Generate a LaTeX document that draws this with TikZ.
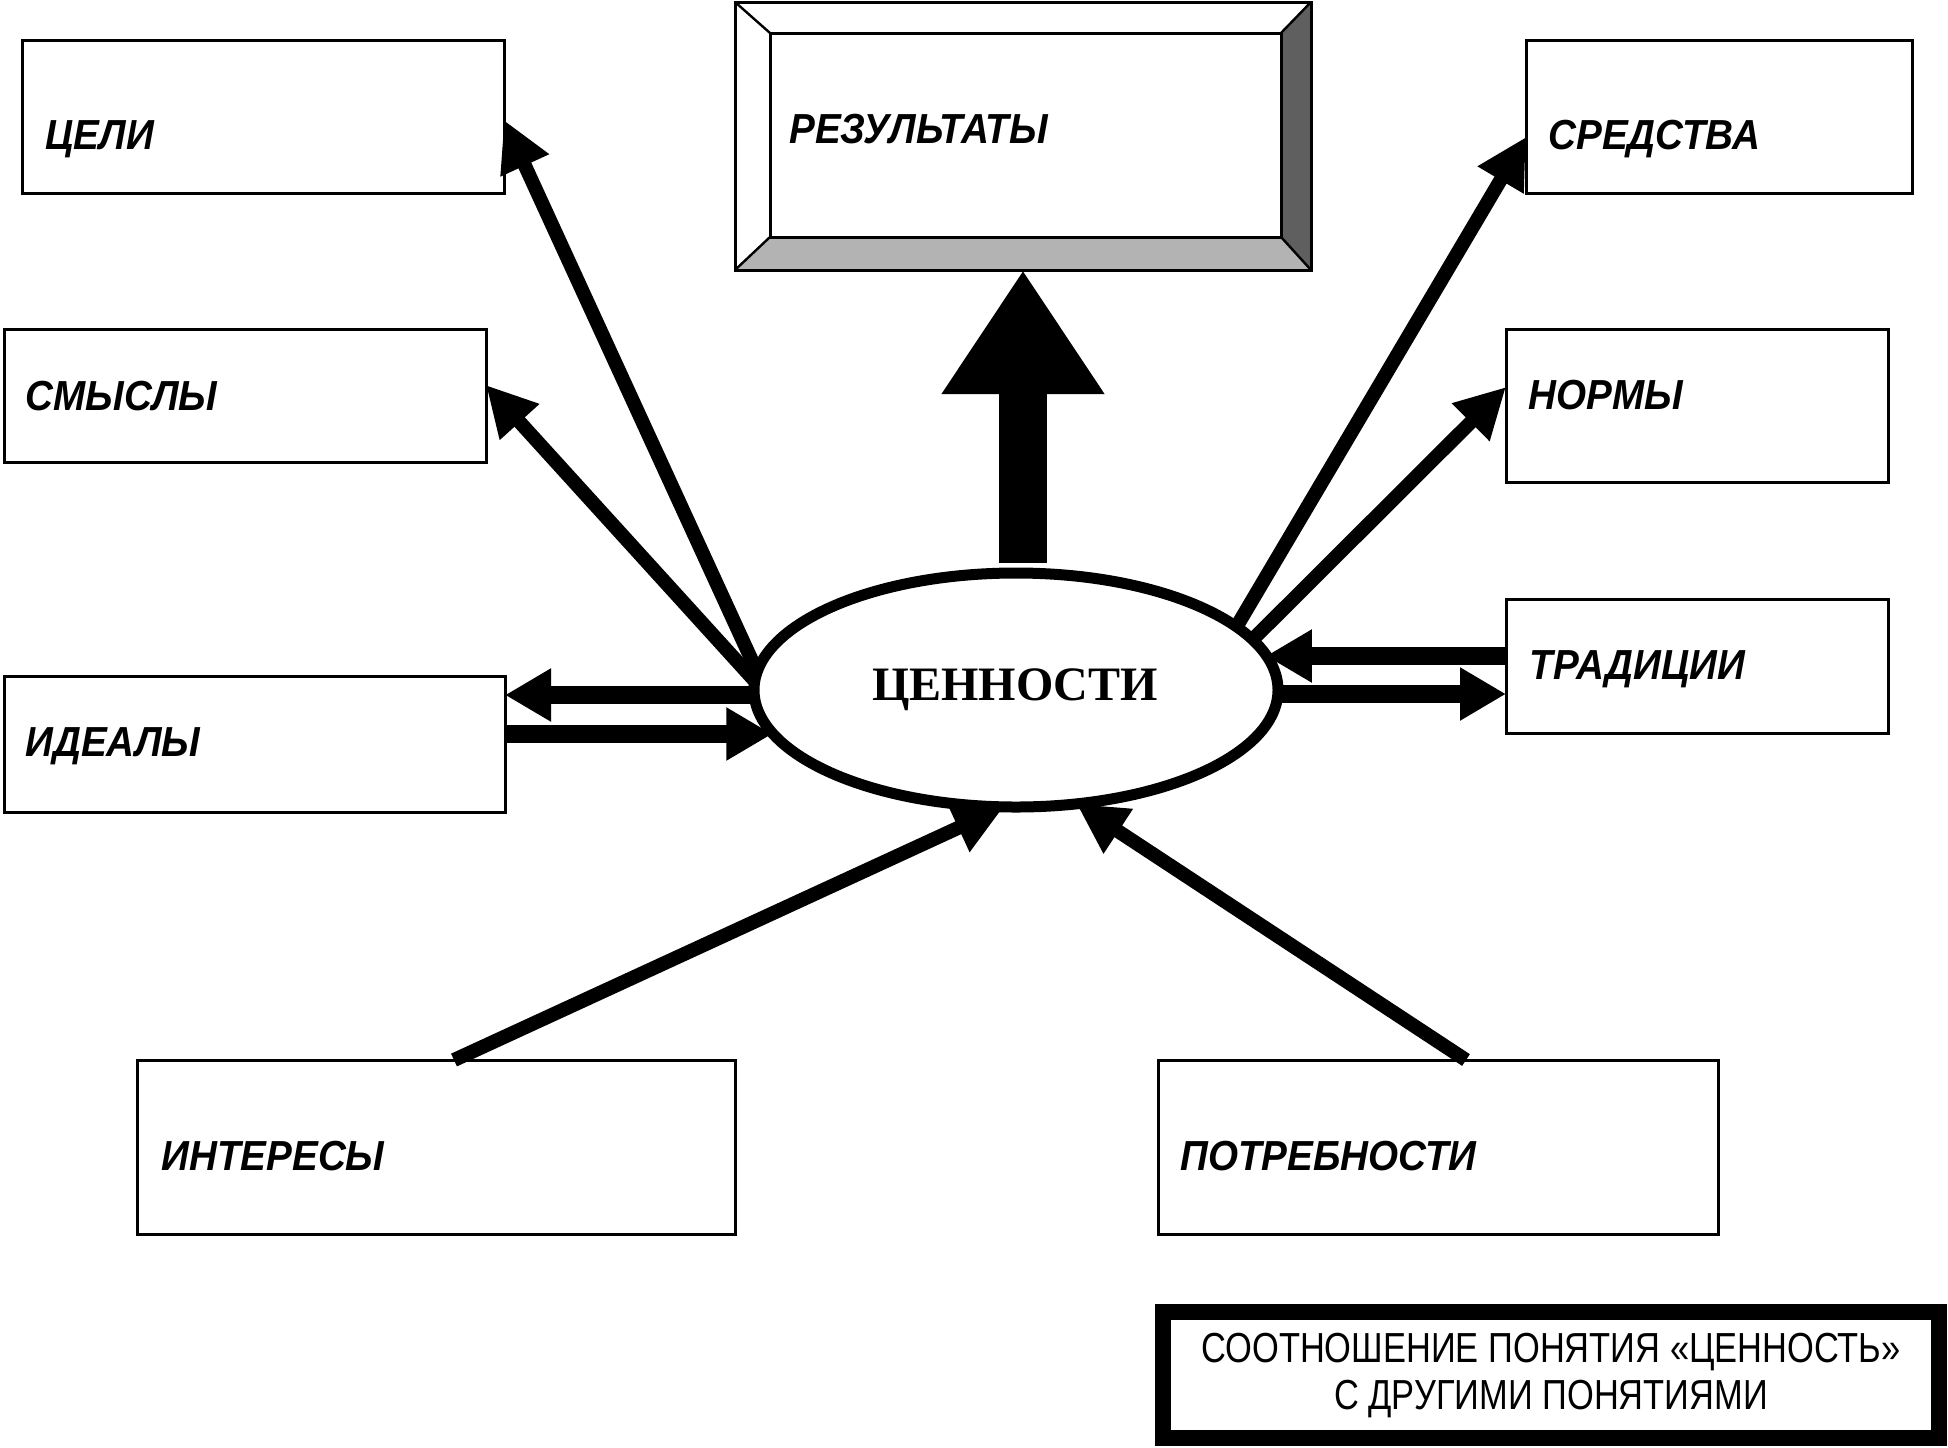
\documentclass[tikz,border=0pt]{standalone}
\usepackage{fontspec}
\setmainfont{Liberation Sans}
\newfontfamily\labfont[FakeStretch=0.92]{Liberation Sans}
\newfontfamily\capfont[FakeStretch=0.82]{Liberation Sans}
\newfontfamily\cenfont{Liberation Serif}
\usetikzlibrary{arrows.meta,shapes.geometric,calc}
\definecolor{bevdark}{HTML}{5F5F5F}
\definecolor{bevlight}{HTML}{B3B3B3}
\tikzset{
 box/.style={draw=black, line width=1.5pt, fill=white, inner sep=0pt, outer sep=0pt},
 lab/.style={font=\labfont\bfseries\itshape\fontsize{21}{25}\selectfont, inner sep=0pt, anchor=base west},
 slant/.style={line width=7pt, -{Triangle[length=25pt,width=25pt]}},
 dbl/.style={line width=9pt, -{Triangle[length=23pt,width=25pt]}},
}
\newcommand\mkbox[5]{\node[box, minimum width={(#4-#2)*0.5pt}, minimum height={(#5-#3)*0.5pt}] (#1) at ({(#2+#4)/2},{(#3+#5)/2}) {};}
\begin{document}
\begin{tikzpicture}[x=0.5pt,y=-0.5pt]
\useasboundingbox[fill=white] (0,0) rectangle (1948,1447);
% boxes
\mkbox{tseli}{22}{40}{504}{193}
\mkbox{smysly}{4}{329}{486}{462}
\mkbox{idealy}{4}{676}{505}{812}
\mkbox{interesy}{137}{1060}{735}{1234}
\mkbox{potreb}{1158}{1060}{1718}{1234}
\mkbox{sredstva}{1526}{40}{1912}{193}
\mkbox{normy}{1506}{329}{1888}{482}
\mkbox{tradicii}{1506}{599}{1888}{733}
% bevelled result box
\node[fill=white, inner sep=0pt, outer sep=0pt, minimum width=288pt, minimum height=134pt] (rez) at (1023,136) {};
\node[inner sep=0pt, outer sep=0pt, minimum width=255.5pt, minimum height=102pt] (rezin) at (1025.5,135) {};
\fill[bevdark] (rez.north east) -- (rez.south east) -- (rezin.south east) -- (rezin.north east) -- cycle;
\fill[bevlight] (rez.south west) -- (rez.south east) -- (rezin.south east) -- (rezin.south west) -- cycle;
\draw[line width=1.5pt] (rez.north west) rectangle (rez.south east);
\draw[line width=1.5pt] (rezin.north west) rectangle (rezin.south east);
\draw[line width=1.2pt] (rez.north west) -- (rezin.north west)
  (rez.north east) -- (rezin.north east)
  (rez.south west) -- (rezin.south west)
  (rez.south east) -- (rezin.south east);
% central ellipse
\node[ellipse, draw, line width=5.5pt, fill=white, minimum width=262pt, minimum height=117pt, inner sep=0pt, outer sep=0pt] (cen) at (1016,690) {};
% big arrow
\coordinate (bigs) at ([yshift=5pt]cen.north);
\draw[line width=24pt, -{Triangle[length=62pt,width=77pt]}] (bigs -| rez.south) -- (rez.south);
% slanted arrows
\draw[slant] (cen.176) -- ([yshift=-1.75pt]tseli.east);
\draw[slant] (cen.178) -- ([yshift=5.25pt]smysly.east);
\draw[slant] (cen.16) -- ([yshift=-10.25pt]sredstva.west);
\draw[slant] (cen.12) -- ([yshift=9.25pt]normy.west);
\draw[slant] ([xshift=9pt]interesy.north) -- (cen.264);
\draw[slant] ([xshift=14pt]potreb.north) -- (cen.298);
% double arrows
\coordinate (idu) at ([yshift=24.5pt]idealy.east);
\coordinate (idl) at ([yshift=5pt]idealy.east);
\coordinate (tru) at ([yshift=5pt]tradicii.west);
\coordinate (trl) at ([yshift=-14pt]tradicii.west);
\draw[dbl] (idu -| cen.west) -- (idu);
\draw[dbl] (idl) -- (idl -| cen.190);
\draw[dbl] (tru) -- (tru -| cen.8);
\draw[dbl] (trl -| cen.east) -- (trl);
% labels
\node[lab] (tseli-t) at (45,149) {ЦЕЛИ};
\node[lab] (smysly-t) at (25,410) {СМЫСЛЫ};
\node[lab] (idealy-t) at (25,756) {ИДЕАЛЫ};
\node[lab] (interesy-t) at (161,1170) {ИНТЕРЕСЫ};
\node[lab] (potreb-t) at (1180,1170) {ПОТРЕБНОСТИ};
\node[lab] (sredstva-t) at (1548,149) {СРЕДСТВА};
\node[lab] (normy-t) at (1528,409) {НОРМЫ};
\node[lab] (tradicii-t) at (1529,679) {ТРАДИЦИИ};
\node[lab] (rez-t) at (789,143) {РЕЗУЛЬТАТЫ};
\node[font=\cenfont\bfseries\fontsize{24}{28}\selectfont, anchor=base, inner sep=0pt] (cen-t) at (1015,700) {ЦЕННОСТИ};
% caption
\node[draw, line width=8pt, minimum width=388pt, minimum height=63pt, inner sep=0pt, outer sep=0pt, align=center, font=\capfont\fontsize{21}{23.5}\selectfont] (capt) at (1551,1375) {СООТНОШЕНИЕ ПОНЯТИЯ «ЦЕННОСТЬ»\\С ДРУГИМИ ПОНЯТИЯМИ};
\end{tikzpicture}
\end{document}
